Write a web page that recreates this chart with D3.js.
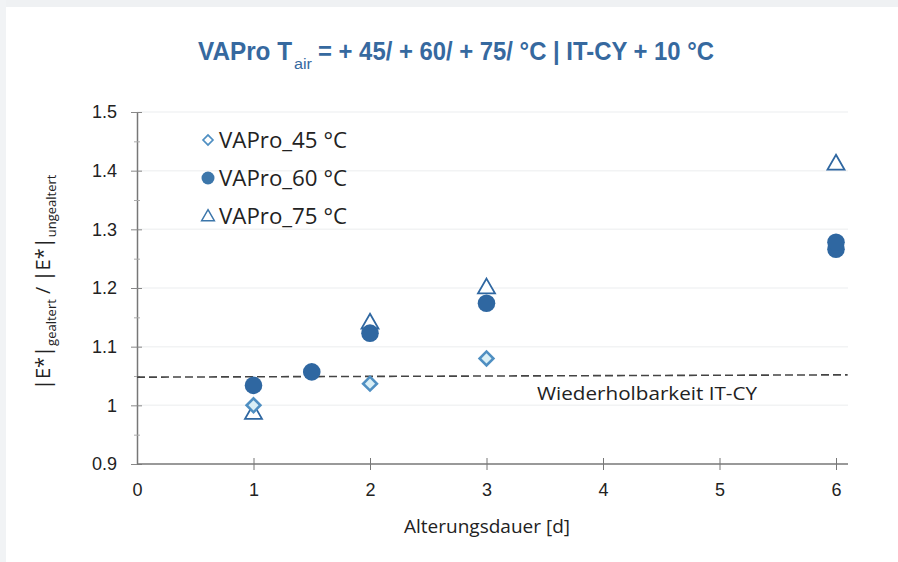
<!DOCTYPE html>
<html>
<head>
  <meta charset="utf-8">
  <title>VAPro Alterung</title>
  <style>
    body { margin: 0; padding: 0; background: #fff; overflow: hidden; }
    svg { display: block; }
    .tick text { font-family: "Liberation Sans", Arial, sans-serif; font-size: 18px; fill: #222; }
    .lbl { font-family: "Open Sans", "Noto Sans", sans-serif; fill: #222; }
  </style>
</head>
<body>
  <div id="chart"></div>

  <script src="https://d3js.org/d3.v7.min.js"></script>
  <script>
    // data
    const days45 = [1, 2, 3];
    const vals45 = [1.0, 1.037, 1.08];
    const days60 = [1, 1.5, 2, 3, 6, 6];
    const vals60 = [1.034, 1.057, 1.123, 1.174, 1.266, 1.278];
    const days75 = [1, 2, 3, 6];
    const vals75 = [0.987, 1.141, 1.201, 1.412];
    const repeatLine = [[0, 1.048], [6.1, 1.052]];
    const xTicks = [0, 1, 2, 3, 4, 5, 6];
    const yTicks = [0.9, 1, 1.1, 1.2, 1.3, 1.4, 1.5];
    const legendNames = ['VAPro_45 °C', 'VAPro_60 °C', 'VAPro_75 °C'];

    const W = 898, H = 562;
    const blue = '#2f67a1';

    const svg = d3.select('#chart').append('svg')
      .attr('width', W).attr('height', H);

    // faint scan frame
    svg.append('rect').attr('x', 0).attr('y', 0).attr('width', W).attr('height', 7).attr('fill', '#eff1f3');
    svg.append('rect').attr('x', 0).attr('y', 0).attr('width', 6).attr('height', H).attr('fill', '#f1f3f5');

    const x = d3.scaleLinear().domain([0, 6]).range([137, 836]);
    const y = d3.scaleLinear().domain([0.9, 1.5]).range([464, 112]);

    // faint grid
    svg.append('g').selectAll('line').data(yTicks.slice(1)).enter().append('line')
      .attr('x1', x(0)).attr('x2', 848)
      .attr('y1', d => y(d)).attr('y2', d => y(d))
      .attr('stroke', '#f2f3f4').attr('stroke-width', 1.5);

    // y axis
    const yAxis = svg.append('g').attr('transform', `translate(${x(0)},0)`)
      .call(d3.axisLeft(y).tickValues(yTicks).tickFormat(d => d === 1 ? '1' : d3.format('.1f')(d)).tickSizeOuter(0).tickPadding(14));
    yAxis.select('.domain').attr('stroke', '#777').attr('stroke-width', 1.5);
    yAxis.selectAll('.tick line').attr('x1', -6).attr('x2', 5).attr('stroke', '#888');

    const yMinor = svg.append('g').attr('transform', `translate(${x(0)},0)`)
      .call(d3.axisLeft(y).tickValues(d3.range(0.95, 1.5, 0.1)).tickFormat('').tickSize(0));
    yMinor.select('.domain').remove();
    yMinor.selectAll('.tick line').attr('x1', -3).attr('x2', 3).attr('stroke', '#aaa');

    // x axis
    const xAxis = svg.append('g').attr('transform', `translate(0,${y(0.9)})`)
      .call(d3.axisBottom(x).tickValues(xTicks).tickFormat(d3.format('d')).tickSizeOuter(0).tickPadding(13));
    xAxis.select('.domain').attr('d', `M${x(0)},0H848`).attr('stroke', '#777').attr('stroke-width', 1.5);
    xAxis.selectAll('.tick line').attr('y1', -6).attr('y2', 6).attr('stroke', '#777');
    xAxis.selectAll('.tick').filter(d => d === 0).select('line').remove();

    // repeatability line
    svg.append('line')
      .attr('x1', x(repeatLine[0][0])).attr('y1', y(repeatLine[0][1]))
      .attr('x2', x(repeatLine[1][0])).attr('y2', y(repeatLine[1][1]))
      .attr('stroke', '#444').attr('stroke-width', 1.6).attr('stroke-dasharray', '8,4');

    svg.append('text').attr('class', 'lbl')
      .attr('x', 537).attr('y', 400).attr('font-size', 19)
      .attr('textLength', 220).attr('lengthAdjust', 'spacingAndGlyphs')
      .text('Wiederholbarkeit IT-CY');

    // markers
    const tri = d3.symbol().type(d3.symbolTriangle).size(125);
    const dia = d3.symbol().type(d3.symbolSquare).size(95);

    svg.append('g').selectAll('path').data(days75.map((d, i) => [d, vals75[i]])).enter().append('path')
      .attr('d', tri)
      .attr('transform', d => `translate(${x(d[0])},${y(d[1]) + 1})`)
      .attr('fill', '#fff').attr('stroke', blue).attr('stroke-width', 1.8);

    svg.append('g').selectAll('circle').data(days60.map((d, i) => [d, vals60[i]])).enter().append('circle')
      .attr('cx', d => x(d[0])).attr('cy', d => y(d[1]))
      .attr('r', 8.8).attr('fill', blue);

    svg.append('g').selectAll('path').data(days45.map((d, i) => [d, vals45[i]])).enter().append('path')
      .attr('d', dia)
      .attr('transform', d => `translate(${x(d[0])},${y(d[1])}) rotate(45)`)
      .attr('fill', '#d9eff6').attr('stroke', '#4f8fc2').attr('stroke-width', 2.6);

    // legend
    const leg = svg.append('g');
    const legY = [140, 178, 216];
    leg.append('path').attr('d', d3.symbol().type(d3.symbolSquare).size(50))
      .attr('transform', `translate(208,${legY[0]}) rotate(45)`)
      .attr('fill', '#fff').attr('stroke', '#4f8fc2').attr('stroke-width', 1.6);
    leg.append('circle').attr('cx', 208).attr('cy', legY[1]).attr('r', 6.5).attr('fill', '#3c76aa');
    leg.append('path').attr('d', d3.symbol().type(d3.symbolTriangle).size(70))
      .attr('transform', `translate(208,${legY[2] + 1})`)
      .attr('fill', '#fff').attr('stroke', '#3c76aa').attr('stroke-width', 1.5);
    leg.selectAll('text').data(legendNames).enter().append('text').attr('class', 'lbl')
      .attr('x', 219).attr('y', (d, i) => legY[i] + 8).attr('font-size', 21)
      .attr('textLength', 128).attr('lengthAdjust', 'spacingAndGlyphs')
      .text(d => d);

    // title
    const tFont = '"Liberation Sans Narrow", "Liberation Sans", Arial, sans-serif';
    const tColor = '#36699f';
    svg.append('text').attr('x', 198).attr('y', 60).attr('font-family', tFont).attr('font-size', 25)
      .attr('font-weight', 'bold').attr('fill', tColor)
      .attr('textLength', 94).attr('lengthAdjust', 'spacingAndGlyphs').text('VAPro T');
    svg.append('text').attr('x', 294).attr('y', 69).attr('font-family', tFont).attr('font-size', 14)
      .attr('fill', tColor)
      .attr('textLength', 18).attr('lengthAdjust', 'spacingAndGlyphs').text('air');
    svg.append('text').attr('x', 318).attr('y', 60).attr('font-family', tFont).attr('font-size', 25)
      .attr('font-weight', 'bold').attr('fill', tColor)
      .attr('textLength', 396).attr('lengthAdjust', 'spacingAndGlyphs')
      .text('= + 45/ + 60/ + 75/ °C | IT-CY + 10 °C');

    // axis titles
    svg.append('text').attr('class', 'lbl').attr('x', 487).attr('y', 533)
      .attr('text-anchor', 'middle').attr('font-size', 19)
      .text('Alterungsdauer [d]');

    const yt = svg.append('text').attr('class', 'lbl')
      .attr('transform', 'translate(50,390) rotate(-90)')
      .attr('font-size', 20);
    yt.append('tspan').text('|E*|');
    yt.append('tspan').attr('font-size', 13).attr('dy', 6).text('gealtert');
    yt.append('tspan').attr('dy', -6).text(' / |E*|');
    yt.append('tspan').attr('font-size', 13).attr('dy', 6).text('ungealtert');
  </script>
</body>
</html>
